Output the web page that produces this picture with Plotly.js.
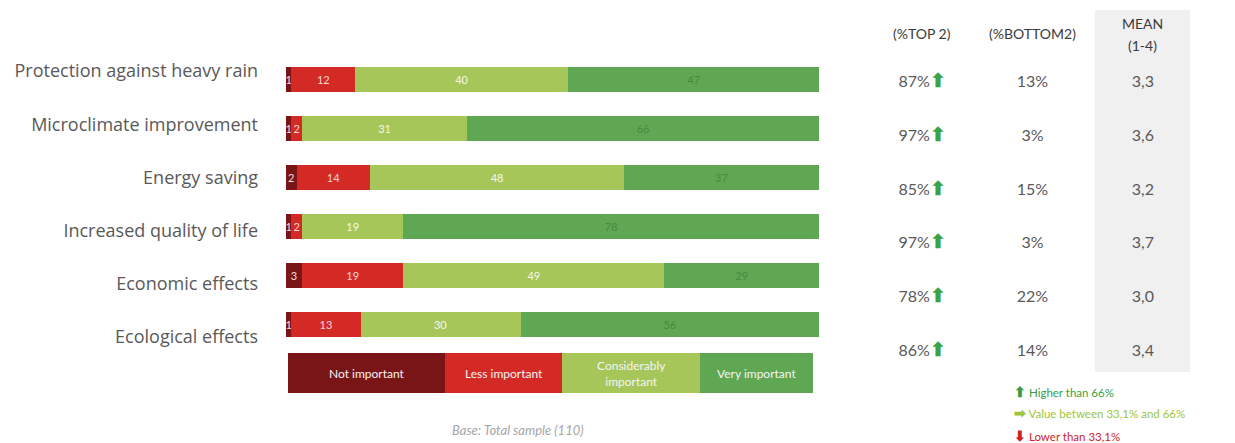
<!DOCTYPE html>
<html>
<head>
<meta charset="utf-8">
<script src="https://cdn.plot.ly/plotly-3.0.1.min.js"></script>
<style>html,body{margin:0;padding:0;background:#fff;}#chart{width:1235px;height:443px;}</style>
</head>
<body>
<div id="chart"></div>
<script>
// ---- data ----
var categories = ["Protection against heavy rain","Microclimate improvement","Energy saving","Increased quality of life","Economic effects","Ecological effects"];
var seriesNames = ["Not important","Less important","Considerably important","Very important"];
var notImportant = [1, 1, 2, 1, 3, 1];
var lessImportant = [12, 2, 14, 2, 19, 13];
var considerablyImportant = [40, 31, 48, 19, 49, 30];
var veryImportant = [47, 66, 37, 78, 29, 56];
var top2 = [87, 97, 85, 97, 78, 86];
var bottom2 = [13, 3, 15, 3, 22, 14];
var mean = [3.3, 3.6, 3.2, 3.7, 3.0, 3.4];
var tableHeaders = ["(%TOP 2)", "(%BOTTOM2)", "MEAN", "(1-4)"];
var tableCols = ["top2", "bottom2", "mean"];
var arrowLegend = ["Higher than 66%", "Value between 33,1% and 66%", "Lower than 33,1%"];
var baseNote = "Base: Total sample (110)";

// ---- styles ----
var W = 1235, H = 443;
function px(x){ return x / W; }
function py(y){ return 1 - y / H; }
var colors = ["#7a1517", "#d32a26", "#a6c65a", "#5fa753"];
var textColors = ["#f3dede", "#f6d6d6", "#f4f8ea", "#4a8a3f"];
var grey = "#595959";
var FONT = "'Open Sans', Lato, sans-serif";
var FONT2 = "Lato, 'Open Sans', sans-serif";

var seriesValues = [notImportant, lessImportant, considerablyImportant, veryImportant];
var traces = [];
seriesValues.forEach(function(vals, i){
  traces.push({
    type: "bar", orientation: "h", name: seriesNames[i],
    x: vals, y: categories, xaxis: "x", yaxis: "y",
    marker: {color: colors[i], line: {width: 0}},
    text: vals.map(String), textposition: "inside", insidetextanchor: "middle",
    textfont: {color: textColors[i], size: 11, family: FONT2},
    hoverinfo: "skip", showlegend: false
  });
});

// invisible trace carrying the category labels on their own axis
traces.push({
  type: "scatter", mode: "markers", x: categories.map(function(){return 0;}), y: categories,
  xaxis: "x", yaxis: "y2", marker: {opacity: 0}, hoverinfo: "skip", showlegend: false
});

// table
function fmtMean(v){ return v.toFixed(1).replace(".", ","); }
function arrowFor(v){
  if (v > 66) return "<span style='color:#3aa345;font-size:19px'><b>⬆</b></span>";
  if (v > 33.1) return "<span style='color:#9bc53d;font-size:19px'><b>➡</b></span>";
  return "<span style='color:#d02020;font-size:19px'><b>⬇</b></span>";
}
var tx = [], ty = [], tt = [];
categories.forEach(function(c, i){
  tx.push(tableCols[0]); ty.push(c); tt.push(top2[i] + "%" + arrowFor(top2[i]));
  tx.push(tableCols[1]); ty.push(c); tt.push(bottom2[i] + "%");
  tx.push(tableCols[2]); ty.push(c); tt.push(fmtMean(mean[i]));
});
traces.push({
  type: "scatter", mode: "text", x: tx, y: ty, text: tt, textposition: "middle center",
  xaxis: "x2", yaxis: "y3", textfont: {color: grey, size: 16, family: FONT2},
  hoverinfo: "skip", showlegend: false
});

var shapes = [{
  type: "rect", xref: "paper", yref: "paper", layer: "below",
  x0: px(1095), x1: px(1190), y0: py(372), y1: py(10),
  fillcolor: "#f0f0f0", line: {width: 0}
}];
var annotations = [];
// legend boxes
var legendEdges = [288, 445, 562, 700, 813];
var legendLabels = ["Not important", "Less important", "Considerably<br>important", "Very important"];
legendLabels.forEach(function(l, i){
  shapes.push({type: "rect", xref: "paper", yref: "paper",
    x0: px(legendEdges[i]), x1: px(legendEdges[i+1]), y0: py(393), y1: py(353),
    fillcolor: colors[i], line: {width: 0}});
  annotations.push({xref: "paper", yref: "paper", x: px((legendEdges[i]+legendEdges[i+1])/2), y: py(373),
    text: l, showarrow: false, xanchor: "center", yanchor: "middle",
    font: {color: "#f4f4f4", size: 12, family: FONT2}});
});
// table headers
var headerX = [tableCols[0], tableCols[1], tableCols[2], tableCols[2]];
var headerY = [34, 34, 24, 45];
tableHeaders.forEach(function(h, i){
  annotations.push({xref: "x2", yref: "paper", x: headerX[i], y: py(headerY[i]),
    text: h, showarrow: false, xanchor: "center", yanchor: "middle",
    font: {color: "#3a3a3a", size: 14, family: FONT2}});
});
// arrow legend
var arrowGlyphs = ["⬆", "➡", "⬇"];
var arrowColors = ["#3a9d3f", "#9bc53d", "#cf1f1f"];
var arrowY = [391, 412, 435];
arrowLegend.forEach(function(t, i){
  annotations.push({xref: "paper", yref: "paper", x: px(1012), y: py(arrowY[i]),
    text: "<span style='font-size:14px'><b>" + arrowGlyphs[i] + "</b></span> " + t, showarrow: false, xanchor: "left", yanchor: "middle",
    font: {color: arrowColors[i], size: 11.5, family: FONT2}});
});
annotations.push({xref: "paper", yref: "paper", x: px(518), y: py(430), text: "<i>" + baseNote + "</i>",
  showarrow: false, xanchor: "center", yanchor: "middle", font: {color: "#a6a6a6", size: 13, family: FONT2}});

var layout = {
  width: W, height: H, margin: {l: 0, r: 0, t: 0, b: 0},
  paper_bgcolor: "#fff", plot_bgcolor: "rgba(0,0,0,0)",
  barmode: "stack", barnorm: "percent", bargap: 0.49,
  uniformtext: {minsize: 11, mode: "show"},
  font: {family: FONT, color: grey},
  showlegend: false,
  xaxis: {domain: [px(286), px(819)], range: [0, 100], visible: false, fixedrange: true},
  yaxis: {domain: [py(349.5), py(54.5)], type: "category", categoryarray: categories,
    range: [5.5, -0.5], visible: false, fixedrange: true},
  yaxis2: {domain: [py(363.6), py(44.4)], type: "category", categoryarray: categories,
    range: [5.5, -0.5], anchor: "free", position: px(258), showgrid: false, zeroline: false,
    showline: false, ticks: "", tickfont: {size: 18, color: grey, family: FONT}, fixedrange: true},
  xaxis2: {domain: [px(867), px(1198)], type: "category", categoryarray: tableCols,
    range: [-0.5, 2.5], visible: false, anchor: "y3", fixedrange: true},
  yaxis3: {domain: [py(378.9), py(56.1)], type: "category", categoryarray: categories,
    range: [5.5, -0.5], visible: false, anchor: "x2", fixedrange: true},
  shapes: shapes, annotations: annotations
};
Plotly.newPlot("chart", traces, layout, {displayModeBar: false, staticPlot: true});
</script>
</body>
</html>
